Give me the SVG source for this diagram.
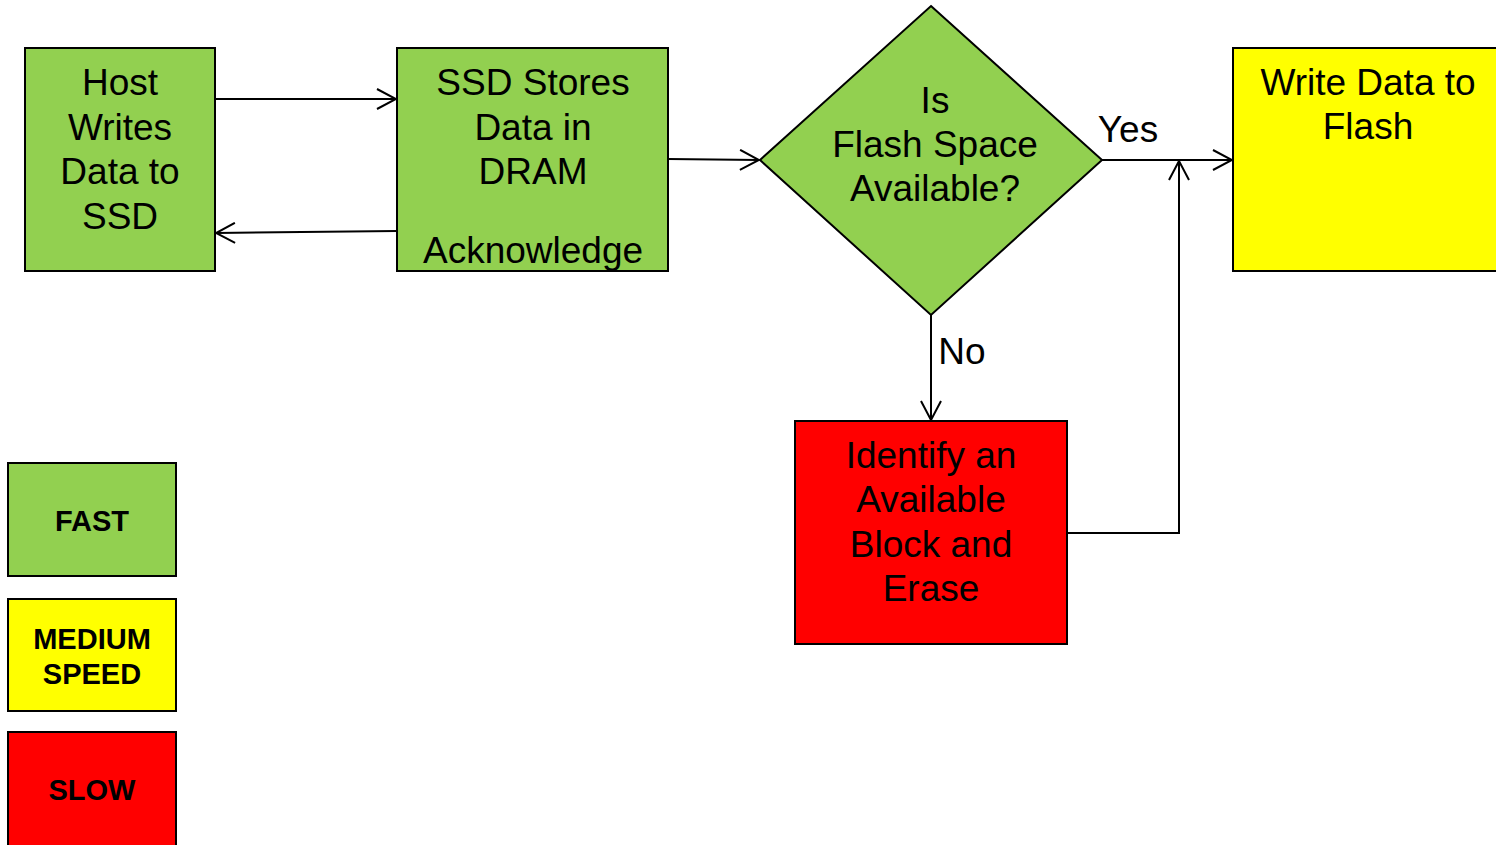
<svg xmlns="http://www.w3.org/2000/svg" width="1496" height="845" viewBox="0 0 1496 845">
<defs>
<style>
.box{stroke:#000;stroke-width:2}
.g{fill:#92D050}.y{fill:#FFFF00}.r{fill:#FF0000}
.t{font-family:"Liberation Sans",Arial,sans-serif;font-size:37px;fill:#000;text-anchor:middle}
.lg{font-family:"Liberation Sans",Arial,sans-serif;font-size:29px;font-weight:bold;fill:#000;text-anchor:middle}
.c{fill:none;stroke:#000;stroke-width:2}
</style>
<marker id="ah" viewBox="0 0 22 22" refX="20" refY="11" markerWidth="22" markerHeight="22" markerUnits="userSpaceOnUse" orient="auto">
<path d="M1,1 L20,11 L1,21" fill="none" stroke="#000" stroke-width="2"/>
</marker>
</defs>
<rect width="1496" height="845" fill="#fff"/>
<g id="host">
<rect class="box g" x="25" y="48" width="190" height="223"/>
<text class="t" x="120" y="95">Host</text>
<text class="t" x="120" y="140">Writes</text>
<text class="t" x="120" y="184">Data to</text>
<text class="t" x="120" y="229">SSD</text>
</g>
<g id="ssd">
<rect class="box g" x="397" y="48" width="271" height="223"/>
<text class="t" x="533" y="95">SSD Stores</text>
<text class="t" x="533" y="140">Data in</text>
<text class="t" x="533" y="184">DRAM</text>
<text class="t" x="533" y="263">Acknowledge</text>
</g>
<g id="decision">
<polygon class="box g" points="931,6 1102,160 931,315 760,160"/>
<text class="t" x="935" y="113">Is</text>
<text class="t" x="935" y="157">Flash Space</text>
<text class="t" x="935" y="201">Available?</text>
</g>
<g id="write">
<rect class="box y" x="1233" y="48" width="270" height="223"/>
<text class="t" x="1368" y="95">Write Data to</text>
<text class="t" x="1368" y="139">Flash</text>
</g>
<g id="erase">
<rect class="box r" x="795" y="421" width="272" height="223"/>
<text class="t" x="931" y="468">Identify an</text>
<text class="t" x="931" y="512">Available</text>
<text class="t" x="931" y="557">Block and</text>
<text class="t" x="931" y="601">Erase</text>
</g>
<g id="legend-fast">
<rect class="box g" x="8" y="463" width="168" height="113"/>
<text class="lg" x="92" y="531">FAST</text>
</g>
<g id="legend-medium">
<rect class="box y" x="8" y="599" width="168" height="112"/>
<text class="lg" x="92" y="649">MEDIUM</text>
<text class="lg" x="92" y="684">SPEED</text>
</g>
<g id="legend-slow">
<rect class="box r" x="8" y="732" width="168" height="120"/>
<text class="lg" x="92" y="800">SLOW</text>
</g>
<g id="connectors">
<line class="c" x1="215" y1="99" x2="396" y2="99" marker-end="url(#ah)"/>
<line class="c" x1="397" y1="231" x2="216" y2="233" marker-end="url(#ah)"/>
<line class="c" x1="668" y1="159" x2="759" y2="160" marker-end="url(#ah)"/>
<line class="c" x1="1102" y1="160" x2="1232" y2="160" marker-end="url(#ah)"/>
<line class="c" x1="931" y1="315" x2="931" y2="420" marker-end="url(#ah)"/>
<polyline class="c" points="1067,533 1179,533 1179,161" marker-end="url(#ah)"/>
<text class="t" x="1128" y="142">Yes</text>
<text class="t" x="962" y="364">No</text>
</g>
</svg>
